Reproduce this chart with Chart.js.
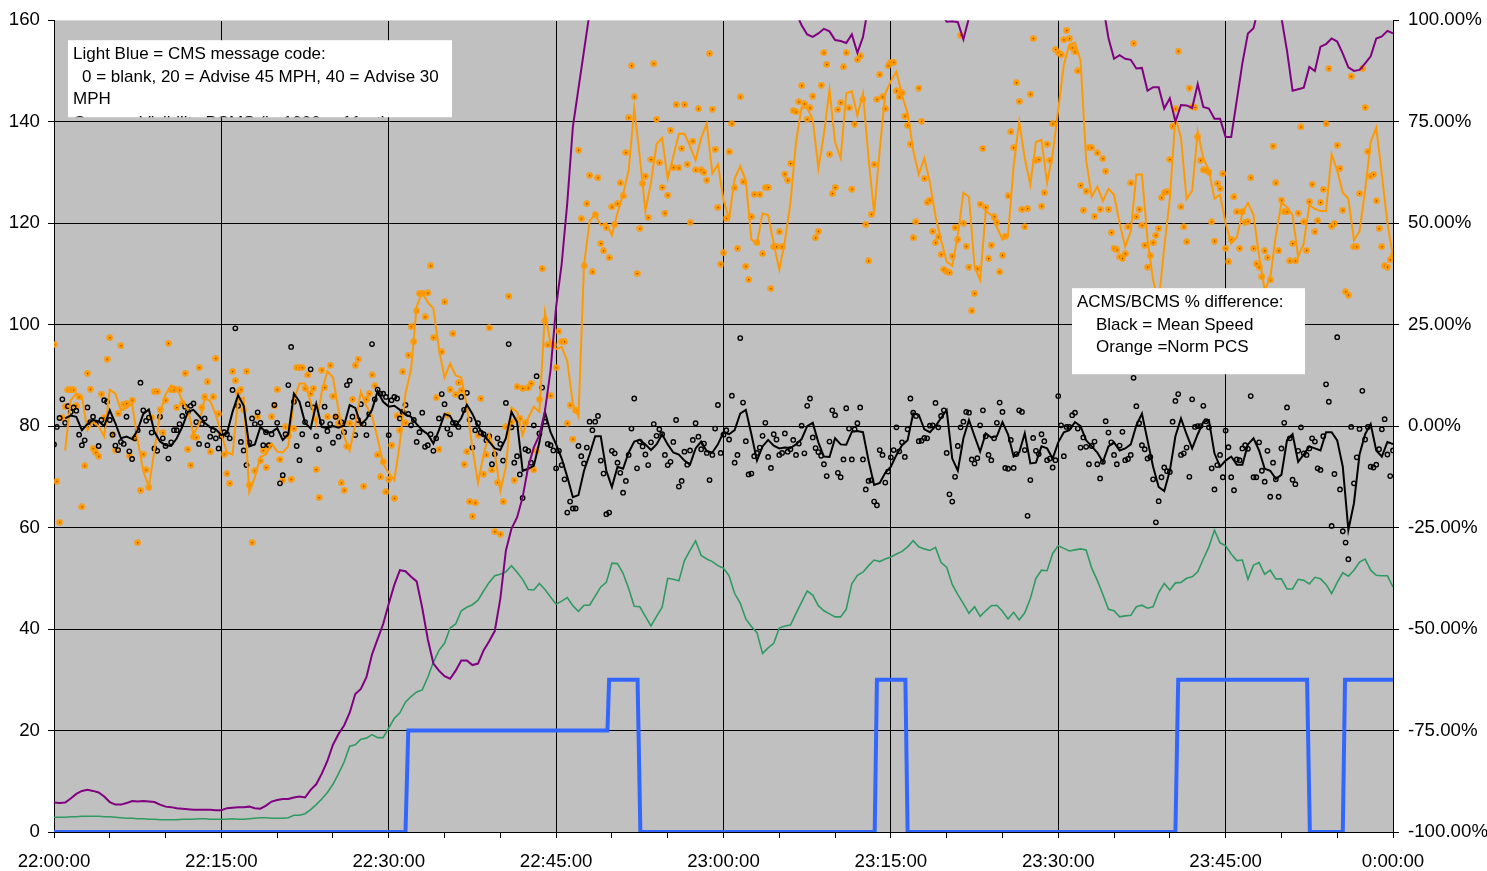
<!DOCTYPE html>
<html>
<head>
<meta charset="utf-8">
<script src="https://cdn.jsdelivr.net/npm/chart.js@4.4.1/dist/chart.umd.min.js"></script>
<style>
  html, body { margin: 0; padding: 0; background: #fff; }
  #chart { display: block; }
</style>
</head>
<body>
<canvas id="chart" width="1487" height="871"></canvas>
<script>
// tick labels on the time axis (every 15 min, minutes after 22:00)
var timeLabels = ['22:00:00', '22:15:00', '22:30:00', '22:45:00', '23:00:00', '23:15:00', '23:30:00', '23:45:00', '0:00:00'];

// CMS message code (left axis), minutes after 22:00
var cmsTimes = [0, 31.5, 31.75, 49.6, 49.75, 52.3, 52.55, 73.55, 73.75, 76.3, 76.5, 100.5, 100.75, 112.3, 112.55, 115.5, 115.7, 120];
var cmsCode  = [0, 0, 20, 20, 30, 30, 0, 0, 30, 30, 0, 0, 30, 30, 0, 0, 30, 30];

// 30 second series, 22:00 to 0:00
var visBCMS = [ // green
  2.9,2.9,2.9,3.0,3.0,3.1,3.1,3.1,3.1,3.0, 3.0,2.9,2.8,2.7,2.7,2.6,2.6,2.5,2.5,2.4,
  2.4,2.4,2.4,2.5,2.5,2.5,2.6,2.6,2.5,2.5, 2.5,2.5,2.6,2.5,2.5,2.6,2.7,2.8,2.8,2.7,
  2.7,2.7,2.8,3.3,3.3,3.6,4.4,5.4,6.5,7.8, 9.4,11.5,13.8,16.9,17.2,18.3,18.5,19.2,18.6,18.6,
  20.5,22.4,23.5,25.6,26.7,27.6,28.0,30.5,33.5,35.8, 37.2,40.2,41.0,43.6,44.3,44.8,45.7,47.5,49.2,50.5,
  50.8,51.3,52.5,51.2,49.8,47.8,47.7,49.0,47.8,46.3, 44.9,45.5,46.2,44.6,43.5,44.7,44.7,46.5,48.3,49.2,
  53.0,52.9,51.0,48.0,44.5,44.4,42.5,40.6,42.5,44.3, 50.0,49.8,49.5,53.5,55.5,57.4,54.5,53.8,53.3,52.5,
  52.0,50.5,47.0,45.1,42.0,40.5,39.3,35.2,36.3,37.2, 40.2,40.6,40.8,43.1,45.3,47.5,46.7,44.6,43.6,43.0,
  42.4,42.4,43.9,48.9,50.6,51.2,52.5,53.6,53.3,53.8, 54.2,54.8,55.3,56.2,57.4,56.2,55.8,55.5,56.1,53.1,
  52.2,48.8,46.8,45.0,43.1,44.4,42.5,43.6,44.6,44.7, 43.5,42.0,43.3,41.8,43.2,46.0,50.0,51.6,51.5,54.9,
  56.4,55.9,55.4,55.6,55.8,55.6,52.0,49.6,46.8,43.9, 43.6,42.4,42.6,42.7,44.4,44.7,44.1,44.4,47.2,49.0,
  47.7,49.1,49.2,50.0,50.3,51.3,53.8,56.2,59.5,57.0, 56.4,54.8,53.5,53.6,49.8,52.6,53.1,50.8,51.6,49.9,
  49.9,47.9,47.9,49.8,49.6,48.9,50.2,49.9,48.8,47.0, 49.2,51.1,50.4,51.6,53.2,53.8,51.6,50.6,50.5,50.5,
  48.3];
var visACMS = [ // purple
  5.8,5.7,5.8,6.6,7.5,8.1,8.3,8.1,7.8,7.0, 5.9,5.4,5.4,5.7,6.1,6.0,6.1,6.0,5.9,5.4,
  5.0,4.9,4.7,4.6,4.5,4.4,4.4,4.4,4.4,4.3, 4.3,4.7,4.8,4.9,4.9,5.0,4.7,4.6,5.2,6.0,
  6.3,6.5,6.5,6.8,7.0,6.8,8.3,9.4,11.5,14.0, 17.2,19.3,21.0,23.5,27.2,28.2,30.5,35.0,38.0,41.0,
  45.0,48.7,51.6,51.4,50.3,49.4,44.2,38.0,33.2,31.8, 30.7,30.2,31.8,33.8,33.8,32.9,33.2,35.8,37.6,39.6,
  46.0,55.5,59.8,62.0,66.0,72.0,75.8,78.2,83.0,91.0, 103.5,112.0,124.0,139.0,146.5,154.0,161.5,170,178,184,
  188,191,193,195,196,197,197,196,195,194, 193,192,190,189,188,187,186,185,183,181,
  180,178,177,176,175,174,173,172,171,170, 168,166,164,161.5,159.0,157.2,156.7,157.4,158.3,157.8,
  156.1,155.9,155.5,157.2,153.6,156.7,163,170,175,178, 180,181,180,178,176,174,172,169,166,161.5,
  159.7,159.8,159.6,156.2,160.5,166,172,177,181,184, 186,188,189,190,190,190,189,188,187,186,
  185,183,181,179,177,175,172,168,163,156.5, 152.4,153.1,152.4,152.2,150.5,150.6,146.1,146.8,146.8,142.6,
  144.6,140.0,143.3,143.2,142.7,147.4,142.9,142.6,140.6,140.6, 137.0,137.0,144.2,151.5,157.4,158.4,163,170,172,168,
  160.5,154,146.1,146.4,146.7,150.8,150.0,154.8,155.3,156.4, 155.8,153.4,150.7,150.0,150.2,151.5,152.9,156.4,156.8,157.9,
  157.4];
var speedDiffAvg = [ // black line, %
  null,null,1.9,2.6,2.3,-1.0,0.5,1.5,1.2,0.0, 3.9,0.7,-3.0,-2.6,-3.2,-1.0,3.0,4.1,-1.4,-3.8,
  -4.7,-4.9,-3.0,-0.2,3.5,4.0,2.5,0.8,-0.3,-0.8, -2.2,-1.8,3.5,7.6,5.0,-5.0,-4.5,-0.2,-1.5,-1.5,
  -0.5,-3.4,-2.0,8.0,6.0,0.8,-0.6,5.5,-0.2,-0.5, 0.0,-0.4,0.2,5.2,4.5,0.3,1.8,4.0,8.6,6.0,
  4.8,5.0,4.0,2.8,2.3,0.5,-1.0,-2.0,-4.3,-1.0, 3.0,2.5,0.0,2.0,5.3,3.0,0.0,-2.2,-3.8,-5.5,
  -5.9,-3.0,3.5,1.0,-11.0,-10.5,-9.8,-4.0,3.5,-1.5, -4.5,-8.0,-12.5,-17.5,-17.0,-11.0,-7.0,-2.5,-2.5,-11.0,
  -15.0,-10.0,-10.5,-6.5,-3.8,-3.4,-4.5,-5.9,-4.5,-2.0, -4.5,-6.5,-7.0,-8.5,-9.5,-5.5,-3.8,-6.2,-6.5,-4.5,
  -1.5,-2.0,-1.0,3.1,4.0,-2.0,-8.5,-5.0,-3.4,-4.8, -5.5,-5.3,-5.4,-4.5,-3.2,0.0,0.8,-4.0,-7.5,-7.6,
  -3.0,-4.5,-4.6,-1.4,-1.2,-1.5,-8.5,-14.5,-14.0,-11.5, -10.0,-7.1,-4.7,-3.5,3.1,2.8,-0.8,-1.5,0.0,2.0,
  3.9,-8.0,-11.0,-3.0,1.5,-2.5,-6.3,-1.8,-2.8,-2.5, 1.0,-2.0,-7.5,-6.5,-1.8,-9.2,-9.0,-5.0,-5.5,-8.0,
  -4.0,-1.5,-1.0,1.0,0.0,-3.5,-5.0,-6.5,-8.8,-5.0, -4.0,-6.0,-5.5,-4.5,0.2,3.1,-3.5,-10.0,-15.0,-16.0,
  -11.0,-2.5,1.9,-2.0,-5.5,-2.0,1.0,1.5,-6.7,-10.0, -8.5,-7.5,-9.5,-9.5,-4.5,-3.0,-6.0,-10.5,-11.0,-13.0,
  -12.0,-3.5,-2.0,-8.8,-7.0,-5.0,-5.5,-6.0,-1.5,-1.5, -3.5,-10.0,-25.6,-19.0,-7.0,-2.0,0.5,-6.0,-7.5,-3.9,
  -4.4];
var pcsDiffAvg = [ // orange line, %
  null,null,-6.0,6.4,8.0,7.2,-1.0,1.0,0.0,-2.6, 9.0,8.0,3.9,4.5,5.5,-3.4,-11.0,-15.0,-5.9,3.0,
  7.8,10.0,9.5,6.2,4.0,-2.0,0.5,6.8,6.2,2.8, -2.0,-6.5,-7.0,6.5,7.0,-16.2,-12.5,-7.6,-7.0,-4.3,
  -6.3,-6.5,-5.0,6.4,10.5,10.5,6.0,0.5,8.4,13.5, 12.0,4.0,-2.6,-6.0,0.5,8.5,5.0,2.5,-3.0,-9.3,
  -11.5,-13.3,-4.0,8.0,14.0,29.5,33.0,30.5,29.0,19.0, 12.0,15.4,12.5,12.0,4.8,-5.5,-14.0,-7.0,-2.0,-6.5,
  -16.0,-10.0,4.5,3.5,-2.2,2.0,4.8,3.5,28.0,20.4, 19.0,19.5,16.0,5.5,2.3,39.7,50.5,52.1,49.5,50.0,
  47.0,52.5,57.0,63.0,78.3,66.3,53.0,60.0,69.5,71.0, 61.0,66.5,72.0,72.0,69.0,65.5,71.0,74.5,62.2,64.5,
  55.7,51.0,61.0,64.0,60.5,46.0,45.0,52.4,52.0,45.0, 38.5,45.5,55.0,70.0,78.5,78.4,75.5,63.5,72.0,82.9,
  70.0,66.0,82.0,82.5,76.5,82.0,66.0,52.5,68.0,82.0, 85.0,87.4,81.5,77.0,68.0,62.0,66.0,60.0,51.7,45.8,
  40.5,39.5,47.0,57.5,56.5,39.2,36.0,53.0,52.0,49.0, 46.0,47.0,64.0,75.0,66.0,59.5,70.0,70.5,60.0,67.0,
  78.0,89.0,94.0,94.5,90.0,65.5,56.5,59.0,55.5,58.5, 57.0,50.0,44.2,48.0,62.0,62.0,46.0,36.0,30.5,44.0,
  56.0,76.2,71.0,56.0,58.0,72.5,66.0,63.0,56.0,57.0, 50.0,45.0,46.5,52.5,55.0,52.0,42.0,33.5,36.5,47.0,
  55.0,54.0,52.0,41.7,45.0,54.5,53.5,53.0,53.0,67.0, 63.0,57.5,56.0,45.8,48.0,58.1,70.0,73.5,62.0,50.0,
  41.7];

// 15 second samples, %
var speedDiff = [ // black dots
  -4.5,-0.2,2.0,6.6,0.8,4.9,3.5,4.6,3.8,-2.1,-4.7,-3.5,4.6,1.0,2.3,0.5,-4.9,1.5,6.4,6.0,
  1.5,-2.1,-4.8,-5.9,-3.9,-4.4,2.3,-6.2,-8.1,-3.0,-1.0,10.7,3.9,1.3,2.1,-1.6,-5.5,-6.1,2.3,-3.0,
  -4.9,-8.0,-4.0,-1.0,-1.0,0.5,2.5,4.8,3.5,5.0,5.6,1.0,-4.4,0.5,1.9,-4.7,-2.6,-1.0,-3.0,-5.5,
  -2.5,-1.5,-2.0,-3.0,8.9,24.1,5.0,-3.9,-6.0,-9.6,-4.0,1.9,0.5,3.4,0.8,-4.7,-1.5,-4.7,-2.0,5.2,
  0.8,-14.1,-12.1,-2.0,10.1,19.5,6.0,-4.9,-8.4,-2.0,1.0,5.4,14.0,4.6,-2.5,-5.7,1.0,4.8,-1.2,0.5,
  -4.1,2.3,-2.6,1.0,-1.5,10.1,11.2,2.3,-2.2,1.5,5.4,0.5,-2.2,3.0,20.2,6.6,9.0,8.0,8.0,7.2,
  -2.2,6.4,7.2,6.8,1.9,3.5,5.2,3.0,0.2,1.5,-3.9,-1.5,3.3,-5.1,-4.7,-2.0,-6.1,-3.0,1.9,7.9,
  5.4,-0.6,-2.0,0.8,0.7,-0.2,7.2,4.0,8.2,1.6,-5.3,-1.0,0.7,-1.6,-2.0,-3.5,-2.5,-9.4,-6.9,-3.0,
  -4.4,-8.5,5.7,20.2,-0.3,-9.0,-7.4,-11.9,-17.7,-5.7,-6.1,-9.0,0.2,12.3,-1.8,9.5,1.1,-4.4,-4.7,-6.0,
  -10.4,-6.1,-9.6,-13.1,-21.3,-18.6,-20.3,-20.3,-4.9,-7.4,-9.2,-5.3,1.1,-1.0,1.1,2.5,-8.5,-11.7,-21.7,-21.3,
  -6.1,-6.7,-9.0,-11.5,-16.4,-13.5,-7.1,-0.6,6.8,-10.4,-3.8,-5.0,-7.0,-9.6,-4.0,0.5,-2.4,-0.8,-2.0,-7.1,
  -9.6,-8.8,-3.9,1.5,-14.9,-13.5,-6.3,-9.5,-6.0,-3.4,0.7,-2.6,-5.7,-4.3,-6.6,-13.3,-7.1,-0.6,5.2,-6.6,
  -2.1,-1.0,-3.3,7.5,-9.0,-7.1,21.7,5.8,-3.7,-11.9,-11.7,-7.4,-6.6,-5.3,-2.4,0.8,-7.6,-10.3,-2.0,-3.3,
  -7.1,-6.6,-1.8,-6.3,-5.7,-3.4,-7.1,-4.3,0.1,-6.7,5.0,6.8,-2.8,-5.4,-6.4,-7.3,-9.4,-12.3,-3.8,3.9,
  2.7,-11.5,-12.6,-8.2,4.4,-0.6,-8.2,-0.8,0.7,4.6,-8.2,-15.6,-13.5,-13.3,-18.6,-19.5,-5.9,-7.1,-13.9,-11.2,
  -7.7,-5.9,-0.3,-6.2,-4.0,-7.6,-0.8,6.8,3.3,2.5,-3.7,-3.6,-2.9,-3.0,0.1,0.2,5.7,-0.3,2.5,3.9,
  -6.6,-16.8,-18.6,-12.5,-4.9,-0.3,1.1,3.5,3.3,-8.2,-9.2,-7.9,0.2,3.9,-2.5,-7.1,-8.4,-3.0,0.8,5.8,
  3.5,-10.3,-10.5,-3.4,-10.3,-6.9,3.9,3.5,-5.9,-22.1,-13.3,-2.9,-6.1,-6.9,-2.0,-3.7,-8.4,-8.0,-10.2,-8.4,
  7.4,0.2,-7.4,-0.2,-0.2,2.7,3.3,-0.6,-5.3,-2.8,-5.1,-9.4,-4.9,-3.8,-9.4,-12.9,-8.8,1.2,-1.6,-4.0,
  -7.1,-9.4,-4.8,-1.4,-8.4,-8.1,-7.1,11.9,4.9,0.7,-4.7,-5.7,-8.0,-7.6,-13.1,-23.7,-18.5,-12.6,-10.2,-11.1,
  -11.3,1.1,6.2,7.9,-7.1,-6.7,-5.3,-12.5,6.6,-0.2,0.0,0.0,5.0,1.2,-0.3,-10.4,-15.6,-9.6,-7.1,-12.6,
  -1.1,-5.2,-12.6,-15.8,-8.2,-8.4,-5.5,-4.7,-5.6,7.4,-12.6,-12.6,-4.0,-11.0,-13.7,-6.1,-17.4,-9.0,-13.1,-17.4,
  -5.5,0.8,4.6,-3.0,-13.2,-14.3,-6.1,-0.3,-6.7,-7.1,-5.5,-3.0,-3.8,-10.4,-10.8,-2.5,10.3,6.0,-24.6,-11.8,
  21.9,-15.6,-25.9,-28.7,-32.8,-0.2,-14.1,-7.7,-0.7,8.7,-3.3,-0.2,-10.0,-10.2,-9.5,-5.7,-0.8,1.7,-7.0,-12.3,
  -6.0];
var pcsDiff = [ // orange dots
  20.1,-13.6,-23.7,2.0,4.8,8.9,8.9,8.9,5.0,7.2,-19.9,-9.8,13.0,9.1,-5.5,-6.5,-7.4,7.9,2.1,16.5,
  21.8,-2.1,-5.9,3.1,19.8,5.4,5.6,-7.3,6.4,-3.0,-28.7,-15.8,-6.9,-10.8,-15.1,2.1,8.5,8.5,4.0,-1.6,
  6.4,20.4,8.9,8.9,4.6,8.9,5.6,13.0,-5.7,-9.6,-2.6,-2.8,14.4,4.6,7.2,10.9,-6.3,7.2,16.7,3.0,
  -2.0,-6.9,-11.7,-14.1,13.5,11.2,8.2,9.0,4.0,13.5,-14.5,-28.7,-11.0,2.3,-8.5,-6.0,-10.2,-5.0,2.3,5.0,
  9.0,-8.2,-13.3,-0.2,-2.4,-13.1,-0.6,14.4,14.4,14.4,9.3,12.6,8.0,9.3,-10.7,-17.6,13.8,9.5,2.3,15.0,
  7.4,2.3,0.7,-14.0,-15.8,-5.0,0.7,6.6,15.0,16.5,0.7,-14.8,6.6,8.0,12.6,9.9,-7.1,-12.5,-8.8,-16.2,
  -13.1,-4.7,-17.8,2.5,-1.0,13.4,0.8,17.5,24.5,20.8,28.4,32.7,32.7,26.9,32.8,39.5,21.8,7.0,-5.7,18.3,
  30.6,2.7,9.0,22.8,7.8,10.7,8.8,-9.4,-6.3,-18.6,-22.2,-18.9,-2.2,6.8,-11.8,-7.1,24.2,-10.8,-26.0,-13.9,
  -26.6,-18.6,-0.2,32.0,1.1,-13.3,9.7,1.9,9.3,0.8,9.4,10.5,-10.8,-6.1,6.6,38.8,25.9,20.0,7.5,20.0,
  14.4,23.4,20.8,20.8,0.7,5.2,-3.2,3.9,68.0,51.1,39.5,54.8,61.8,38.0,52.1,61.2,45.0,43.2,48.9,41.5,
  54.0,49.7,54.8,59.9,56.7,67.4,76.0,88.8,81.1,37.6,48.7,59.8,61.6,51.4,65.7,89.3,75.6,64.9,58.8,52.5,
  56.9,72.9,63.7,79.2,63.6,68.4,79.2,64.5,50.2,70.2,63.1,78.2,63.1,62.5,60.6,91.8,78.1,68.2,53.9,39.9,
  42.7,51.2,67.6,74.5,58.7,43.8,81.1,60.2,39.4,36.1,51.6,57.1,45.2,57.1,42.5,58.8,58.8,33.9,44.2,44.2,
  47.9,44.2,62.1,60.6,64.7,77.7,77.4,79.9,83.9,79.4,75.6,78.4,81.3,46.4,48.0,84.0,92.0,89.1,67.0,57.3,
  58.8,78.0,79.7,88.5,92.0,78.4,58.4,74.4,90.3,91.2,80.5,49.7,40.7,52.2,64.5,80.5,86.6,81.1,78.2,88.8,
  89.6,89.6,82.6,81.1,82.1,76.4,74.1,69.5,46.4,50.3,83.3,75.1,61.0,55.1,55.7,48.0,45.2,46.6,42.3,38.6,
  38.0,37.8,41.9,48.9,46.0,96.3,50.0,44.3,39.2,28.4,32.7,38.8,54.7,68.4,53.9,41.3,44.6,51.6,50.2,38.0,
  42.1,46.8,56.7,72.5,68.6,84.6,80.0,53.4,49.1,53.6,81.8,95.5,65.5,65.7,54.2,57.5,69.5,65.5,74.5,92.8,
  92.0,91.5,95.2,97.5,95.5,93.2,92.2,87.5,59.3,53.2,57.9,68.6,68.6,51.7,67.3,53.4,65.9,62.8,53.4,47.7,
  43.8,43.4,41.7,41.3,42.5,49.1,59.9,94.3,51.6,53.4,49.5,44.6,39.2,42.0,45.2,47.0,48.7,56.3,57.5,57.7,
  65.7,73.9,78.2,92.4,54.0,49.1,45.4,83.3,78.7,78.5,71.3,65.5,63.1,63.0,62.6,50.3,45.6,59.8,58.5,62.2,
  43.8,40.5,46.0,56.5,52.8,43.8,52.8,50.2,50.4,61.2,43.8,40.0,39.2,36.8,43.2,41.5,36.0,69.0,59.9,43.2,
  55.7,52.8,52.8,40.7,45.0,40.7,52.5,73.7,50.3,43.3,55.3,59.6,47.9,50.6,55.1,58.3,74.5,88.1,49.3,49.9,
  69.2,63.5,53.2,33.1,32.3,86.2,44.2,44.2,57.3,88.1,78.5,67.6,61.6,62.0,55.5,48.7,44.2,39.5,39.2,41.0,
  42.0];

var FONT = '"Liberation Sans", Arial, sans-serif';

function toPoints(values, step) {
    return values.map(function (v, i) { return { x: i * step, y: v }; });
}

// orange marker: filled orange circle with a small dark centre
function orangeMarker() {
    var m = document.createElement('canvas');
    m.width = 7;
    m.height = 7;
    var g = m.getContext('2d');
    g.fillStyle = '#ff9900';
    g.beginPath();
    g.arc(3.5, 3.5, 3.2, 0, Math.PI * 2);
    g.fill();
    g.fillStyle = '#7a4000';
    g.fillRect(3, 3, 1.2, 1.2);
    return m;
}

// gray plot area
var plotBackground = {
    id: 'plotBackground',
    beforeDraw: function (chart) {
        var a = chart.chartArea, c = chart.ctx;
        c.save();
        c.fillStyle = '#c0c0c0';
        c.fillRect(a.left, a.top, a.right - a.left, a.bottom - a.top);
        c.restore();
    }
};

// the two white note boxes
var noteBoxes = {
    id: 'noteBoxes',
    afterDatasetsDraw: function (chart) {
        var a = chart.chartArea, c = chart.ctx;
        c.save();
        c.font = '17px ' + FONT;
        c.textBaseline = 'alphabetic';

        // top left box, its last line is cut off by the box edge
        var bx = a.left + 14, by = a.top + 20;
        c.fillStyle = '#fff';
        c.fillRect(bx, by, 384, 77);
        c.beginPath();
        c.rect(bx, by, 384, 77);
        c.clip();
        c.fillStyle = '#000';
        c.fillText('Light Blue = CMS message code:', bx + 5, by + 19);
        c.fillText('0 = blank, 20 = Advise 45 MPH, 40 = Advise 30', bx + 14, by + 41.5);
        c.fillText('MPH', bx + 5, by + 64);
        c.fillText('Green = Visibility BCMS (in 1000s of feet)', bx + 5, by + 88);
        c.restore();

        c.save();
        c.font = '17px ' + FONT;
        var px = a.left + 1018, py = a.top + 268;
        c.fillStyle = '#fff';
        c.fillRect(px, py, 233, 86);
        c.fillStyle = '#000';
        c.fillText('ACMS/BCMS % difference:', px + 5, py + 19);
        c.fillText('Black = Mean Speed', px + 24, py + 42);
        c.fillText('Orange =Norm PCS', px + 24, py + 64);
        c.restore();
    }
};

var ctx = document.getElementById('chart').getContext('2d');
var chart = new Chart(ctx, {
    type: 'line',
    data: {
        datasets: [{
            label: 'CMS message code',
            data: cmsTimes.map(function (t, i) { return { x: t, y: cmsCode[i] }; }),
            borderColor: '#3366ff',
            borderWidth: 4,
            pointRadius: 0,
            yAxisID: 'y'
        }, {
            label: 'Visibility ACMS',
            data: toPoints(visACMS, 0.5),
            borderColor: '#800080',
            borderWidth: 2,
            pointRadius: 0,
            yAxisID: 'y'
        }, {
            label: 'Visibility BCMS',
            data: toPoints(visBCMS, 0.5),
            borderColor: '#2f9a62',
            borderWidth: 1.6,
            pointRadius: 0,
            yAxisID: 'y'
        }, {
            label: 'Mean speed diff (avg)',
            data: toPoints(speedDiffAvg, 0.5),
            borderColor: '#000',
            borderWidth: 2,
            pointRadius: 0,
            yAxisID: 'y2'
        }, {
            label: 'Norm PCS diff (avg)',
            data: toPoints(pcsDiffAvg, 0.5),
            borderColor: '#ff9900',
            borderWidth: 2,
            pointRadius: 0,
            yAxisID: 'y2'
        }, {
            label: 'Mean speed diff',
            data: toPoints(speedDiff, 0.25),
            showLine: false,
            pointRadius: 2.2,
            pointBorderWidth: 1.4,
            pointBorderColor: '#000',
            pointBackgroundColor: 'rgba(0,0,0,0)',
            yAxisID: 'y2'
        }, {
            label: 'Norm PCS diff',
            data: toPoints(pcsDiff, 0.25),
            showLine: false,
            pointStyle: orangeMarker(),
            pointRadius: 3,
            yAxisID: 'y2'
        }]
    },
    options: {
        responsive: false,
        devicePixelRatio: 1,
        animation: false,
        events: [],
        elements: { line: { tension: 0 } },
        layout: { padding: { top: 20, left: 0, right: 0, bottom: 0 } },
        plugins: { legend: { display: false }, tooltip: { enabled: false } },
        scales: {
            x: {
                type: 'linear',
                min: 0,
                max: 120,
                afterFit: function (s) { s.height = 39; },
                ticks: {
                    stepSize: 5,
                    autoSkip: false,
                    maxRotation: 0,
                    padding: 13,
                    color: '#000',
                    font: { family: FONT, size: 18.7 },
                    callback: function (v) { return v % 15 === 0 ? timeLabels[v / 15] : ''; }
                },
                grid: {
                    color: function (c) { return c.tick && c.tick.value % 15 === 0 ? '#000' : 'rgba(0,0,0,0)'; },
                    tickColor: '#000',
                    tickLength: 6,
                    lineWidth: 1
                },
                border: { color: '#000', width: 1 }
            },
            y: {
                position: 'left',
                min: 0,
                max: 160,
                afterFit: function (s) { s.width = 54; },
                ticks: {
                    stepSize: 20,
                    padding: 8,
                    color: '#000',
                    font: { family: FONT, size: 18.7 }
                },
                grid: {
                    color: function (c) { return c.tick && c.tick.value === 160 ? '#d8d8d8' : '#000'; },
                    tickColor: '#000',
                    tickLength: 6,
                    lineWidth: 1
                },
                border: { color: '#000', width: 1 }
            },
            y2: {
                position: 'right',
                min: -100,
                max: 100,
                afterFit: function (s) { s.width = 94; },
                ticks: {
                    stepSize: 25,
                    padding: 9,
                    color: '#000',
                    font: { family: FONT, size: 18.7 },
                    callback: function (v) { return v.toFixed(2) + '%'; }
                },
                grid: { drawOnChartArea: false, tickColor: '#000', tickLength: 6 },
                border: { color: '#000', width: 1 }
            }
        }
    },
    plugins: [plotBackground, noteBoxes]
});
</script>
</body>
</html>
